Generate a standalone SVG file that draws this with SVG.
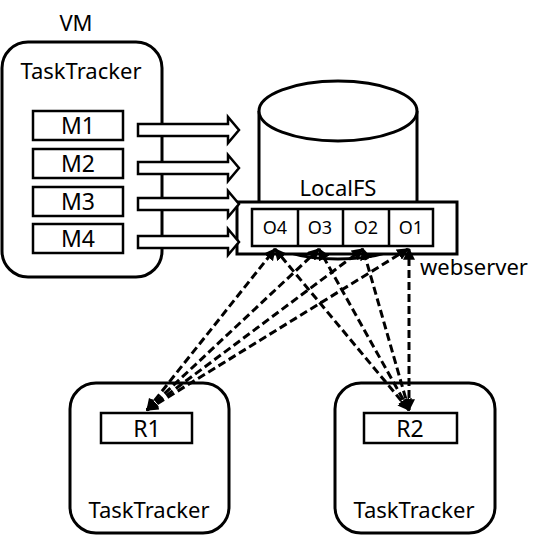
<svg xmlns="http://www.w3.org/2000/svg" width="548" height="537" viewBox="0 0 548 537">
<defs>
<style>
.box{fill:#fff;stroke:#000;stroke-width:3}
.cell{fill:#fff;stroke:#000;stroke-width:2.5}
.t{font-family:"Noto Sans","Open Sans",sans-serif;font-size:22px;fill:#000}
.tm{font-family:"Noto Sans","Open Sans",sans-serif;font-size:23px;fill:#000;text-anchor:middle}
.ts{font-family:"Noto Sans","Open Sans",sans-serif;font-size:18px;fill:#000;text-anchor:middle}
.blk{fill:#fff;stroke:#000;stroke-width:2.5;stroke-linejoin:miter}
.dash{fill:none;stroke:#000;stroke-width:3;stroke-dasharray:8 4;marker-start:url(#ah);marker-end:url(#ah)}
</style>
<marker id="ah" viewBox="0 0 10 10" refX="9" refY="5" markerWidth="4" markerHeight="4" orient="auto-start-reverse" markerUnits="strokeWidth">
<path d="M0,0 L10,5 L0,10 z" fill="#000"/>
</marker>
</defs>
<g id="vm">
<text class="t" x="76" y="31" text-anchor="middle">VM</text>
<rect class="box" x="2" y="42" width="160" height="235" rx="26"/>
<text class="t" x="81" y="79" text-anchor="middle">TaskTracker</text>
</g>
<g id="m1"><rect class="cell" x="33" y="111" width="90" height="29"/><text class="tm" x="78" y="134">M1</text></g>
<g id="m2"><rect class="cell" x="33" y="149" width="90" height="29"/><text class="tm" x="78" y="172">M2</text></g>
<g id="m3"><rect class="cell" x="33" y="187" width="90" height="29"/><text class="tm" x="78" y="210">M3</text></g>
<g id="m4"><rect class="cell" x="33" y="224" width="90" height="29"/><text class="tm" x="78" y="247">M4</text></g>
<g id="localfs">
<path class="box" d="M259,111 L259,229 A79,30 0 0 0 417,229 L417,111"/>
<ellipse class="box" cx="338" cy="111" rx="79" ry="30"/>
<text class="t" x="338" y="196" text-anchor="middle">LocalFS</text>
</g>
<g id="webserver">
<rect class="box" x="237" y="202" width="220" height="52"/>
<rect class="cell" x="252" y="209" width="181" height="37"/>
<line x1="298" y1="209" x2="298" y2="246" stroke="#000" stroke-width="2.5"/>
<line x1="343" y1="209" x2="343" y2="246" stroke="#000" stroke-width="2.5"/>
<line x1="389" y1="209" x2="389" y2="246" stroke="#000" stroke-width="2.5"/>
<text class="ts" x="275" y="234">O4</text>
<text class="ts" x="320" y="234">O3</text>
<text class="ts" x="366" y="234">O2</text>
<text class="ts" x="411" y="234">O1</text>
<text class="t" x="420" y="275">webserver</text>
</g>
<g id="tt1">
<rect class="box" x="70" y="383" width="159" height="150" rx="26"/>
<rect class="cell" x="101" y="413" width="91" height="30"/>
<text class="tm" x="147" y="437">R1</text>
<text class="t" x="149" y="518" text-anchor="middle">TaskTracker</text>
</g>
<g id="tt2">
<rect class="box" x="335" y="383" width="160" height="150" rx="26"/>
<rect class="cell" x="364" y="413" width="93" height="30"/>
<text class="tm" x="410" y="437">R2</text>
<text class="t" x="414" y="518" text-anchor="middle">TaskTracker</text>
</g>
<g id="connectors">
<polygon class="blk" points="138,124 228,124 228,117 239,130 228,143 228,136 138,136"/>
<polygon class="blk" points="138,162 228,162 228,155 239,168 228,181 228,174 138,174"/>
<polygon class="blk" points="138,198 228,198 228,191 239,204 228,217 228,210 138,210"/>
<polygon class="blk" points="138,236 228,236 228,229 239,242 228,255 228,248 138,248"/>
<line class="dash" x1="147" y1="410" x2="275" y2="249"/>
<line class="dash" x1="147" y1="410" x2="319" y2="249"/>
<line class="dash" x1="147" y1="410" x2="363" y2="249"/>
<line class="dash" x1="147" y1="410" x2="408" y2="249"/>
<line class="dash" x1="409" y1="410" x2="275" y2="249"/>
<line class="dash" x1="409" y1="410" x2="319" y2="249"/>
<line class="dash" x1="409" y1="410" x2="363" y2="249"/>
<line class="dash" x1="409" y1="410" x2="409" y2="249"/>
</g>
</svg>
